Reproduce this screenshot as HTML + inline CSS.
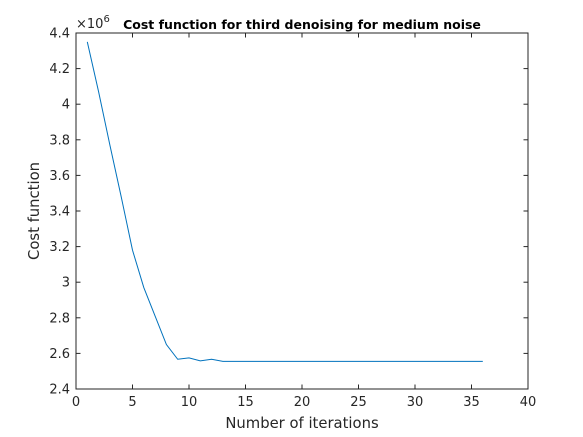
<!DOCTYPE html>
<html><head><meta charset="utf-8"><style>
body{margin:0;background:#fff;}
svg{display:block;font-family:"DejaVu Sans","Liberation Sans",sans-serif;}
</style></head><body>
<svg id="chart" width="583" height="437"></svg>
<script>
const iterations=[1,2,3,4,5,6,7,8,9,10,11,12,13,14,15,16,17,18,19,20,21,22,23,24,25,26,27,28,29,30,31,32,33,34,35,36];
const costValues=[4.35,4.07,3.77,3.48,3.18,2.97,2.81,2.65,2.567,2.575,2.558,2.567,2.555,2.555,2.555,2.555,2.555,2.555,2.555,2.555,2.555,2.555,2.555,2.555,2.555,2.555,2.555,2.555,2.555,2.555,2.555,2.555,2.555,2.555,2.555,2.555];
const xTicks=[0,5,10,15,20,25,30,35,40];
const yTicks=[2.4,2.6,2.8,3,3.2,3.4,3.6,3.8,4,4.2,4.4];
const NS="http://www.w3.org/2000/svg";
const svg=document.getElementById('chart');
const L=76,R=528,T=33,B=389;
const xs=v=>L+(v-0)/40*(R-L);
const ys=v=>B-(v-2.4)/2*(B-T);
function mk(tag,attrs,parent){const e=document.createElementNS(NS,tag);for(const k in attrs)e.setAttribute(k,attrs[k]);(parent||svg).appendChild(e);return e;}
const box=mk('rect',{x:L,y:T,width:R-L,height:B-T,fill:'#fff',stroke:'#262626','stroke-width':1});


xTicks.forEach(t=>{const x=xs(t);
mk('line',{x1:x,x2:x,y1:B,y2:B-4.5,stroke:'#262626'});
mk('line',{x1:x,x2:x,y1:T,y2:T+4.5,stroke:'#262626'});
const tx=mk('text',{x:x,y:B+17,'text-anchor':'middle','font-size':13,fill:'#262626'});tx.textContent=t;

});
yTicks.forEach(t=>{const y=ys(t);
mk('line',{x1:L,x2:L+4.5,y1:y,y2:y,stroke:'#262626'});
mk('line',{x1:R,x2:R-4.5,y1:y,y2:y,stroke:'#262626'});
const tx=mk('text',{x:L-6,y:y+4.5,'text-anchor':'end','font-size':13,fill:'#262626'});tx.textContent=String(t);

});
const pts=iterations.map((v,i)=>xs(v)+','+ys(costValues[i])).join(' ');
const line=mk('polyline',{points:pts,fill:'none',stroke:'#0072bd','stroke-width':1});


const ex=mk('text',{x:76,y:28,'font-size':13,fill:'#262626'});ex.innerHTML='×10<tspan dy="-6" font-size="10">6</tspan>';


const title=mk('text',{x:302,y:29,'text-anchor':'middle','font-size':12.5,'font-weight':'bold',fill:'#000'});title.textContent='Cost function for third denoising for medium noise';


const xl=mk('text',{x:302,y:428,'text-anchor':'middle','font-size':14.8,fill:'#262626'});xl.textContent='Number of iterations';


const yl=mk('text',{x:0,y:0,'text-anchor':'middle','font-size':14.8,fill:'#262626',transform:'translate(39,211) rotate(-90)'});yl.textContent='Cost function';


</script>
</body></html>
